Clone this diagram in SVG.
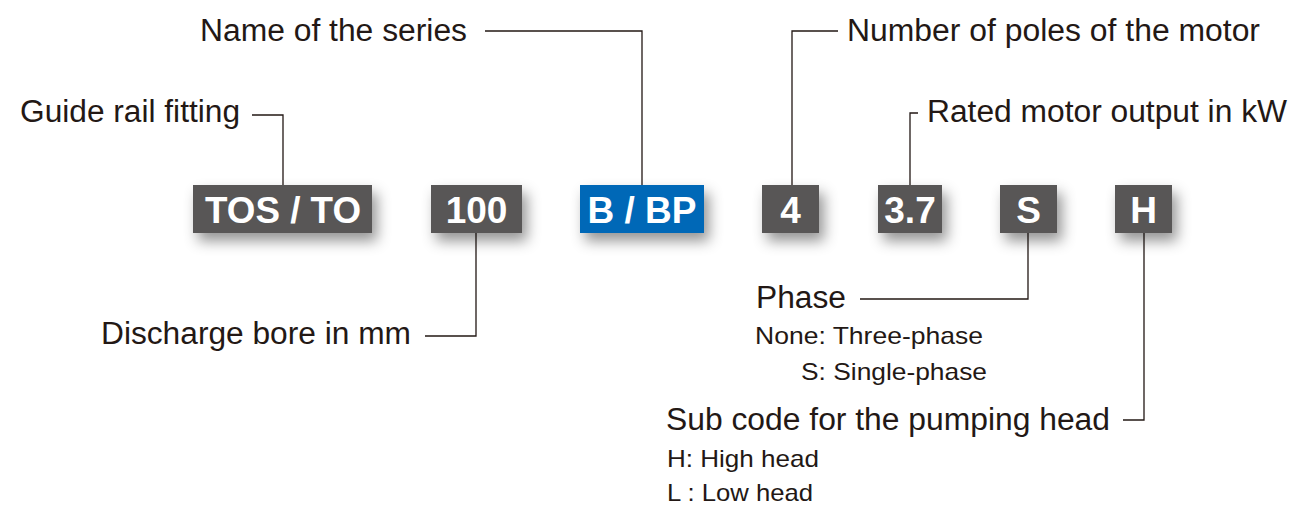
<svg xmlns="http://www.w3.org/2000/svg" width="1294" height="507" viewBox="0 0 1294 507">
<defs>
<filter id="sh" x="-40%" y="-50%" width="180%" height="220%">
<feDropShadow dx="5" dy="8" stdDeviation="7" flood-color="#000" flood-opacity="0.42"/>
</filter>
<style>
.box{fill:#595757;filter:url(#sh)}
.blue{fill:#0068b7}
.code{font-family:"Liberation Sans",Arial,sans-serif;font-weight:bold;font-size:37px;fill:#fff;text-anchor:middle}
.lbl{font-family:"Liberation Sans",Arial,sans-serif;font-size:31px;fill:#231815}
.sub{font-family:"Liberation Sans",Arial,sans-serif;font-size:24px;fill:#231815}
.con{fill:none;stroke:#231815;stroke-width:1.3}
</style>
</defs>
<rect width="1294" height="507" fill="#fff"/>
<g id="connectors">
<polyline class="con" points="252,115 283,115 283,185"/>
<polyline class="con" points="485,31 642,31 642,185"/>
<polyline class="con" points="838,31 792,31 792,185"/>
<polyline class="con" points="918,113 910,113 910,185"/>
<polyline class="con" points="425,336 476,336 476,233"/>
<polyline class="con" points="860,299 1028,299 1028,233"/>
<polyline class="con" points="1123,420 1144,420 1144,233"/>
</g>
<g id="node-tos">
<rect class="box" x="193" y="185" width="179" height="48"/>
<text class="code" x="283" y="223" textLength="156" lengthAdjust="spacingAndGlyphs">TOS / TO</text>
</g>
<g id="node-100">
<rect class="box" x="431" y="185" width="91" height="48"/>
<text class="code" x="476.5" y="223">100</text>
</g>
<g id="node-bbp">
<rect class="box blue" x="580" y="185" width="124" height="48"/>
<text class="code" x="642" y="223">B / BP</text>
</g>
<g id="node-4">
<rect class="box" x="762" y="185" width="57" height="48"/>
<text class="code" x="790.5" y="223">4</text>
</g>
<g id="node-37">
<rect class="box" x="878" y="185" width="64" height="48"/>
<text class="code" x="910" y="223">3.7</text>
</g>
<g id="node-s">
<rect class="box" x="1000" y="185" width="57" height="48"/>
<text class="code" x="1028.5" y="223">S</text>
</g>
<g id="node-h">
<rect class="box" x="1115" y="185" width="57" height="48"/>
<text class="code" x="1143.5" y="223">H</text>
</g>
<g id="label-series"><text class="lbl" x="200" y="41" textLength="267" lengthAdjust="spacingAndGlyphs">Name of the series</text></g>
<g id="label-poles"><text class="lbl" x="847" y="41" textLength="413" lengthAdjust="spacingAndGlyphs">Number of poles of the motor</text></g>
<g id="label-guide"><text class="lbl" x="20" y="122" textLength="220" lengthAdjust="spacingAndGlyphs">Guide rail fitting</text></g>
<g id="label-output"><text class="lbl" x="927" y="122" textLength="360" lengthAdjust="spacingAndGlyphs">Rated motor output in kW</text></g>
<g id="label-bore"><text class="lbl" x="101" y="344" textLength="310" lengthAdjust="spacingAndGlyphs">Discharge bore in mm</text></g>
<g id="label-phase">
<text class="lbl" x="756" y="308" textLength="90" lengthAdjust="spacingAndGlyphs">Phase</text>
<text class="sub" x="755" y="344" textLength="228" lengthAdjust="spacingAndGlyphs">None: Three-phase</text>
<text class="sub" x="801" y="380" textLength="186" lengthAdjust="spacingAndGlyphs">S: Single-phase</text>
</g>
<g id="label-head">
<text class="lbl" x="666" y="430" textLength="444" lengthAdjust="spacingAndGlyphs">Sub code for the pumping head</text>
<text class="sub" x="667" y="467" textLength="152" lengthAdjust="spacingAndGlyphs">H: High head</text>
<text class="sub" x="667" y="501" textLength="146" lengthAdjust="spacingAndGlyphs">L : Low head</text>
</g>
</svg>
